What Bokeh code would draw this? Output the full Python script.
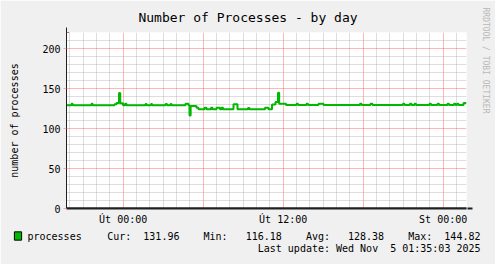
import math
from bokeh.plotting import figure
from bokeh.models import (FixedTicker, Range1d, Label, Arrow, NormalHead,
                          ColumnDataSource)
from bokeh.embed import file_html
from bokeh.resources import INLINE

# ---------------- data ----------------
# hours relative to Tuesday (Út) 00:00
hours = [-4.25, -3.875, -3.79, -2.375, -2.29, -0.65, -0.5, -0.3125, -0.22, -0.0125,
         0.1375, 0.25, 1.675, 1.76, 2.0875, 2.17, 3.175, 3.29, 3.55, 3.63,
         4.675, 4.9, 4.975, 5.06, 5.5, 5.65, 6.1, 6.25, 6.5875, 6.7,
         7.0, 7.2625, 7.375, 7.4875, 8.275, 8.575, 9.3625, 9.475, 10.6375, 10.9,
         11.1625, 11.425, 11.6125, 11.7, 12.2125, 13.0, 13.1125, 13.75, 13.8625, 14.65,
         15.025, 17.7625, 17.875, 18.55, 18.7, 20.9875, 21.1, 21.5125, 21.625, 21.85,
         21.9625, 22.975, 23.0875, 23.575, 23.6875, 24.325, 24.4375, 24.8125, 24.925, 25.0375,
         25.15, 25.525, 25.75]
processes = [129, 130.8, 129, 130.8, 129, 130.2, 132, 144.4, 131.6, 129,
             131, 129, 130.6, 129, 130.6, 129, 130.6, 129, 130.6, 129,
             130.8, 129, 116.18, 128, 126, 124, 125.8, 124, 125.8, 124,
             125.8, 124, 125.8, 124, 130.4, 124, 125.6, 124, 125.8, 124,
             130, 133, 144.82, 131, 129.5, 131, 129.5, 131, 129.5, 131,
             129.5, 130.8, 129.5, 131, 129.5, 131, 129.5, 131, 129.5, 131,
             129.5, 131, 129.5, 131, 129.5, 131, 129.5, 131, 129.5, 131,
             129.5, 131.96, 131.96]

x_ticks = [0, 12, 24]
x_tick_labels = ["Út 00:00", "Út 12:00", "St 00:00"]
x_major_grid = [0, 6, 12, 18, 24]
x_minor_grid = [h for h in range(-4, 26) if h % 6 != 0]
y_ticks = [0, 50, 100, 150, 200]
y_minor_grid = [v for v in range(0, 221, 10) if v % 50 != 0]

title_text = "Number of Processes - by day"
y_label_text = "number of processes"
series_name = "processes"
stat_names = ["Cur:", "Min:", "Avg:", "Max:"]
stat_values = ["131.96", "116.18", "128.38", "144.82"]
last_update = "Last update: Wed Nov  5 01:35:03 2025"
watermark = "RRDTOOL / TOBI OETIKER"

# ---------------- layout ----------------
W, H = 495, 264
L, R, T, B = 66, 29, 32, 56
X0, X1 = -4.25, 25.75
Y0, Y1 = 0, 220
MONO = "DejaVu Sans Mono"
GREEN = "#00B800"
NB = "\u00a0"

p = figure(width=W, height=H, output_backend="svg", toolbar_location=None,
           x_range=Range1d(X0, X1), y_range=Range1d(Y0, Y1),
           min_border_left=L, min_border_right=R, min_border_top=T, min_border_bottom=B,
           background_fill_color="white", border_fill_color="#F0F0F0",
           outline_line_color=None)

# grids
p.xgrid.ticker = FixedTicker(ticks=x_major_grid, minor_ticks=x_minor_grid)
p.ygrid.ticker = FixedTicker(ticks=y_ticks, minor_ticks=y_minor_grid)
for g in (p.xgrid, p.ygrid):
    g.grid_line_color = "#FF0000"
    g.grid_line_alpha = 0.28
    g.minor_grid_line_color = "#A0A0A0"
    g.minor_grid_line_alpha = 0.35

# axes
p.xaxis.ticker = FixedTicker(ticks=x_ticks)
p.xaxis.major_label_overrides = {t: s for t, s in zip(x_ticks, x_tick_labels)}
p.yaxis.ticker = FixedTicker(ticks=y_ticks)
for ax in (p.xaxis, p.yaxis):
    ax.major_label_text_font = MONO
    ax.major_label_text_font_size = "10px"
    ax.major_label_text_color = "#000000"
    ax.minor_tick_line_color = None
    ax.minor_tick_out = 0
    ax.minor_tick_in = 0
    ax.axis_line_color = "#202020"
p.xaxis.major_tick_line_color = None
p.xaxis.major_tick_out = 0
p.xaxis.major_tick_in = 0
p.xaxis.major_label_standoff = 5
p.xaxis.axis_line_width = 2
p.yaxis.major_tick_in = 0
p.yaxis.major_tick_out = 3
p.yaxis.major_tick_line_color = "#F4A8A8"
p.yaxis.major_label_standoff = 3
p.yaxis.axis_label = y_label_text
p.yaxis.axis_label_text_font = MONO
p.yaxis.axis_label_text_font_size = "10px"
p.yaxis.axis_label_text_font_style = "normal"
p.yaxis.axis_label_text_color = "#000000"
p.yaxis.axis_label_standoff = 19

# series
src = ColumnDataSource(dict(t=hours, v=processes))
p.step(x="t", y="v", source=src, mode="after", line_color=GREEN, line_width=2)

# arrows on the axes
px_per_x = (X1 - X0) / (W - L - R)
px_per_y = (Y1 - Y0) / (H - T - B)
p.add_layout(Arrow(end=NormalHead(size=5, fill_color="#8B1A1A", line_color="#8B1A1A"),
                   x_start=X0, y_start=Y0, x_end=X0, y_end=Y1 + 5 * px_per_y,
                   line_color="#202020", line_width=1))
p.add_layout(Arrow(end=NormalHead(size=5, fill_color="#8B1A1A", line_color="#8B1A1A"),
                   x_start=X0, y_start=Y0, x_end=X1 + 6 * px_per_x, y_end=Y0,
                   line_color="#202020", line_width=2))


def canvas_label(panel, x, y, text, size="10px", align="left", **kw):
    lab = Label(x=x, y=y, x_units="canvas", y_units="canvas", text=text,
                text_font=MONO, text_font_size=size, text_align=align,
                text_baseline="middle", text_color=kw.pop("color", "#000000"), **kw)
    p.add_layout(lab, panel)
    return lab


def pad(s, width):
    return s + NB * (width - len(s))


# title (top panel)
canvas_label("above", W / 2, 17, title_text, size="13px", align="center")
# series name (top panel)
LEG_Y = 236
canvas_label("above", 27, LEG_Y, series_name)
# watermark and legend swatch (right panel)
canvas_label("right", 484.5, 7, watermark, size="8px", angle=-math.pi / 2, color="#B8B8B8")
canvas_label("right", 17.5, 235.5, NB, size="2px", align="center",
             background_fill_color=GREEN, border_line_color="#000000", padding=3)
# statistics row (bottom panel), monospace columns
widths = [(6, 10), (7, 10), (7, 10), (6, 6)]
stats = ""
for (nw, vw), n, v in zip(widths, stat_names, stat_values):
    stats += pad(n, nw) + pad(v, vw)
stats = stats.rstrip(NB)
canvas_label("below", 106.7, LEG_Y, stats)
canvas_label("below", 480, 247.5, last_update.replace("  ", NB + " "), align="right")

open("out.html", "w").write(file_html(p, INLINE))
